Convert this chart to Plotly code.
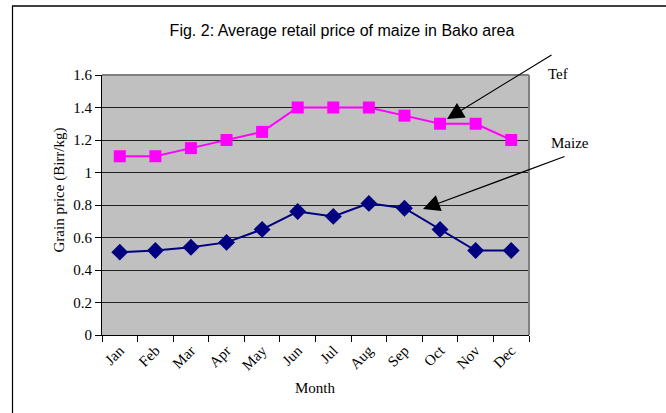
import plotly.graph_objects as go

months = ["Jan", "Feb", "Mar", "Apr", "May", "Jun", "Jul", "Aug", "Sep", "Oct", "Nov", "Dec"]
tef = [1.1, 1.1, 1.15, 1.2, 1.25, 1.4, 1.4, 1.4, 1.35, 1.3, 1.3, 1.2]
maize = [0.51, 0.52, 0.54, 0.57, 0.65, 0.76, 0.73, 0.81, 0.78, 0.65, 0.52, 0.52]
y_ticks = [0, 0.2, 0.4, 0.6, 0.8, 1.0, 1.2, 1.4, 1.6]
y_ticklabels = ["0", "0.2", "0.4", "0.6", "0.8", "1", "1.2", "1.4", "1.6"]

serif = "Liberation Serif, Times New Roman, serif"
sans = "Liberation Sans, Arial, sans-serif"

L, T, R, B = 102, 75, 529, 335  # plot area in pixels
PW, PH = R - L, B - T


def px(x):
    return (x - L) / PW


def py(y):
    return (B - y) / PH


fig = go.Figure()
fig.add_trace(go.Scatter(
    x=months, y=tef, mode="lines+markers", name="Tef",
    line=dict(color="#FF00FF", width=2),
    marker=dict(symbol="square", size=12, color="#FF00FF"),
))
fig.add_trace(go.Scatter(
    x=months, y=maize, mode="lines+markers", name="Maize",
    line=dict(color="#000080", width=2),
    marker=dict(symbol="diamond", size=13, color="#000080"),
))

fig.update_layout(
    width=666, height=413,
    margin=dict(l=L, r=666 - R, t=T, b=413 - B),
    paper_bgcolor="white",
    plot_bgcolor="#C0C0C0",
    showlegend=False,
    title=dict(text="Fig. 2: Average retail price of maize in Bako area",
               x=342 / 666, xanchor="center", y=1 - 30 / 413, yanchor="middle",
               font=dict(family=sans, size=16, color="black")),
)
fig.update_xaxes(
    type="category", range=[-0.5, 11.5],
    showgrid=False, showline=True, linecolor="black", linewidth=1,
    ticks="outside", tickson="boundaries", ticklen=6, tickcolor="black",
    tickangle=-45, tickfont=dict(family=serif, size=15, color="black"),
    zeroline=False,
)
fig.update_yaxes(
    range=[0, 1.6], tickvals=y_ticks, ticktext=y_ticklabels,
    showgrid=True, gridcolor="#202020", gridwidth=1,
    showline=True, linecolor="black", linewidth=1,
    ticks="outside", ticklen=6, tickcolor="black",
    tickfont=dict(family=serif, size=15, color="black"),
    zeroline=False,
)

# plot area top/right border (gray)
fig.add_shape(type="line", xref="paper", yref="paper", x0=0, y0=1, x1=1, y1=1,
              line=dict(color="#808080", width=2), layer="above")
fig.add_shape(type="line", xref="paper", yref="paper", x0=1, y0=0, x1=1, y1=1,
              line=dict(color="#808080", width=2), layer="above")
# outer chart border (extends past the right and bottom edges)
fig.add_shape(type="line", xref="paper", yref="paper",
              x0=px(12), y0=py(6), x1=px(666), y1=py(6),
              line=dict(color="black", width=1.5), layer="above")
fig.add_shape(type="line", xref="paper", yref="paper",
              x0=px(12.5), y0=py(6), x1=px(12.5), y1=py(413),
              line=dict(color="black", width=1.2), layer="above")

# axis titles
fig.add_annotation(text="Grain price (Birr/kg)", xref="paper", yref="paper",
                   x=px(48), y=py(190), textangle=-90,
                   showarrow=False, font=dict(family=serif, size=15, color="black"))
fig.add_annotation(text="Month", xref="paper", yref="paper",
                   x=px(315), y=py(398),
                   showarrow=False, font=dict(family=serif, size=15, color="black"))

# callouts
fig.add_annotation(text="", xref="paper", yref="paper",
                   x=px(447), y=py(119),
                   ax=106, ay=-65, showarrow=True,
                   arrowhead=2, arrowsize=2.8, arrowwidth=1.2, arrowcolor="black")
fig.add_annotation(text="Tef", xref="paper", yref="paper",
                   x=px(570), y=py(64),
                   showarrow=False, font=dict(family=serif, size=15, color="black"))
fig.add_annotation(text="", xref="paper", yref="paper",
                   x=px(423), y=py(209),
                   ax=143, ay=-53, showarrow=True,
                   arrowhead=2, arrowsize=2.8, arrowwidth=1.2, arrowcolor="black")
fig.add_annotation(text="Maize", xref="paper", yref="paper",
                   x=px(591), y=py(133),
                   showarrow=False, font=dict(family=serif, size=15, color="black"))

fig.write_html("out.html", config={"displayModeBar": False},
               post_script="document.body.style.margin='0';")
